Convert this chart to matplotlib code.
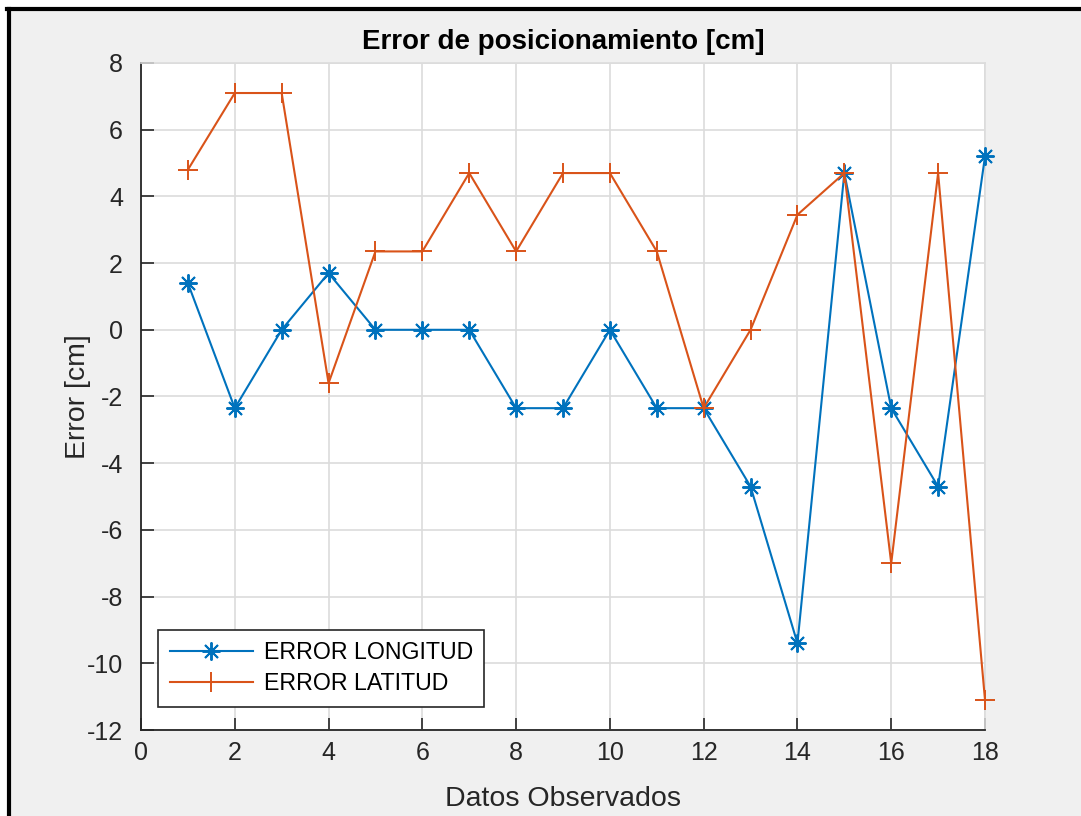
import matplotlib
matplotlib.use("Agg")
import matplotlib.pyplot as plt
import numpy as np

plt.rcParams['font.family'] = ['Liberation Sans', 'DejaVu Sans']
plt.rcParams['axes.unicode_minus'] = False

datos = np.arange(1, 19)
err_longitud = [1.4, -2.35, 0, 1.7, 0, 0, 0, -2.35, -2.35, 0, -2.35, -2.35,
                -4.7, -9.4, 4.7, -2.35, -4.7, 5.2]
err_latitud = [4.8, 7.1, 7.1, -1.6, 2.35, 2.35, 4.7, 2.35, 4.7, 4.7, 2.35, -2.35,
               0, 3.45, 4.7, -7.0, 4.7, -11.1]

azul = '#0072BD'
naranja = '#D95319'
gris = '#262626'

fig = plt.figure(figsize=(10.81, 8.16), dpi=100, facecolor='#f0f0f0')
ax = fig.add_axes([141/1081, 86/816, 844/1081, 667/816])

ax.plot(datos, err_longitud, color=azul, lw=1.5, marker=(8, 2, 0), ms=13,
        mew=1.4, label='ERROR LONGITUD', clip_on=False, zorder=3)
ax.plot(datos, err_latitud, color=naranja, lw=1.5, marker='+', ms=15,
        mew=1.4, label='ERROR LATITUD', clip_on=False, zorder=3)

ax.set_xlim(0, 18)
ax.set_ylim(-12, 8)
ax.set_xticks(np.arange(0, 19, 2))
ax.set_yticks(np.arange(-12, 9, 2))
ax.grid(True, color='#dcdcdc', lw=1.2)
ax.set_axisbelow(True)
ax.tick_params(direction='in', length=9, width=1.2, colors=gris,
               labelsize=18, top=False, right=False, pad=8)
ax.tick_params(axis='y', pad=13)
for s in ['left', 'bottom']:
    ax.spines[s].set_color(gris)
    ax.spines[s].set_linewidth(1.3)
for s in ['top', 'right']:
    ax.spines[s].set_color('#dcdcdc')
    ax.spines[s].set_linewidth(1.2)

ax.set_title('Error de posicionamiento [cm]', fontsize=20, fontweight='bold',
             color='black', pad=10)
ax.set_xlabel('Datos Observados', fontsize=20.5, color=gris, labelpad=15)
ax.set_ylabel('Error [cm]', fontsize=20.5, color=gris, labelpad=-3)

leg = ax.legend(loc='lower left', bbox_to_anchor=(17/844, 23/667), fontsize=16.7,
                fancybox=False, edgecolor=gris, framealpha=1, handlelength=3.6,
                borderpad=0.5, labelspacing=0.35, handletextpad=0.45,
                borderaxespad=0)
leg.get_frame().set_linewidth(1.2)

# marco negro del pantallazo
fig.add_artist(plt.Line2D([9/1081, 9/1081], [0, 1 - 9/816], color='black', lw=3,
                          transform=fig.transFigure))
fig.add_artist(plt.Line2D([7/1081, 1], [1 - 9/816, 1 - 9/816], color='black', lw=3,
                          transform=fig.transFigure))
fig.add_artist(plt.Rectangle((0, 0), 7/1081, 1, transform=fig.transFigure,
                             facecolor='white', edgecolor='none'))
fig.add_artist(plt.Rectangle((0, 1 - 7/816), 1, 7/816, transform=fig.transFigure,
                             facecolor='white', edgecolor='none'))

fig.savefig('out.png', dpi=100, facecolor=fig.get_facecolor())
